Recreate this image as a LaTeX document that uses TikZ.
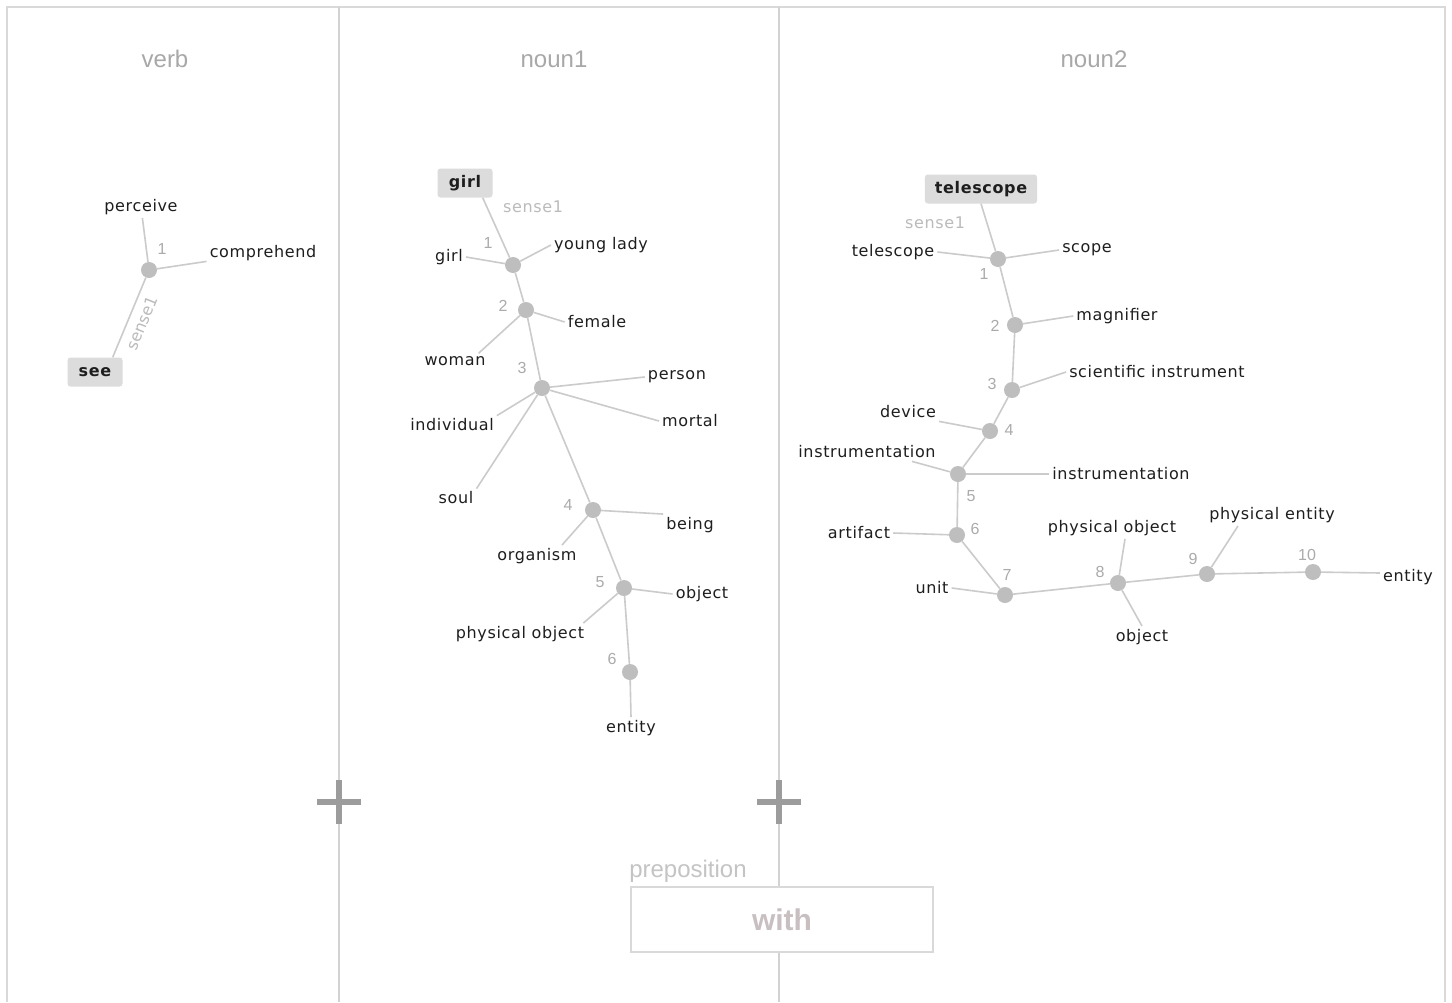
\documentclass[tikz,border=0pt]{standalone}
\usepackage{fontspec}
\newfontfamily\lblfam{DejaVu Sans}[LetterSpace=4]
\newfontfamily\plainfam{DejaVu Sans}
\newfontfamily\hdrfam{Liberation Sans}

\definecolor{framegray}{HTML}{D9D9D9}
\definecolor{divgray}{HTML}{D2D2D2}
\definecolor{linegray}{HTML}{CBCBCB}
\definecolor{hubgray}{HTML}{BEBEBE}
\definecolor{numgray}{HTML}{ABABAB}
\definecolor{sensegray}{HTML}{BBBBBB}
\definecolor{headgray}{HTML}{A8A8A8}
\definecolor{prepgray}{HTML}{C4C4C4}
\definecolor{boxgray}{HTML}{DCDCDC}
\definecolor{wordink}{HTML}{1E1E1E}
\definecolor{withink}{HTML}{C8BFC1}
\definecolor{plusgray}{HTML}{9C9C9C}

\tikzset{
  hub/.style={circle, fill=hubgray, minimum size=16pt, inner sep=0pt},
  word/.style={font=\fontsize{16}{19}\lblfam, text=wordink, inner sep=3pt},
  num/.style={font=\fontsize{16}{19}\hdrfam, text=numgray, inner sep=0pt},
  sense/.style={font=\fontsize{16}{19}\lblfam, text=sensegray, inner sep=0pt},
  tiltsense/.style={font=\fontsize{16}{19}\plainfam, text=sensegray, inner sep=0pt},
  headword/.style={font=\fontsize{16}{19}\lblfam\bfseries, text=wordink,
    fill=boxgray, rounded corners=3pt, minimum height=29pt,
    minimum width=55pt, inner xsep=10pt},
  link/.style={draw=linegray, line width=1.6pt},
  heading/.style={font=\fontsize{24}{28}\hdrfam, text=headgray},
  divider/.style={draw=divgray, line width=1.5pt},
  plus/.style={draw=plusgray, line width=6pt},
}

\begin{document}
\begin{tikzpicture}[x=1pt, y=-1pt]
\useasboundingbox (0,0) rectangle (1452,1002);
\fill[white] (0,0) rectangle (1452,1002);

% outer frame and column dividers
\draw[framegray, line width=2pt] (7,1002) -- (7,7) -- (1445,7) -- (1445,1002);
\draw[divider] (339,7) -- (339,1002);
\draw[divider] (779,7) -- (779,1002);

% column headings
\node[heading] (hverb) at (165,59) {verb};
\node[heading] (hnounone) at (554,59) {noun1};
\node[heading] (hnountwo) at (1094,59) {noun2};

% plus signs on the dividers
\foreach \px in {339,779} {
  \draw[plus] (\px-22,802) -- (\px+22,802) (\px,780) -- (\px,824);
}

% preposition slot
\node[heading, text=prepgray] (prep) at (688,871) {preposition};
\node[draw=framegray, fill=white, line width=1.5pt, minimum width=302pt,
      minimum height=65pt, inner sep=0pt, font=\fontsize{30}{34}\hdrfam\bfseries,
      text=withink] (prepbox) at (782,919.5) {with};

% ---------------- verb tree ----------------
\node[hub] (vhub) at (149,270) {};
\node[word] (vperceive) at (141,207) {perceive};
\node[word] (vcomp) at (263,253) {comprehend};
\node[headword] (vsee) at (95,372) {see};
\node[num] (vn1) at (162,249) {1};
\node[tiltsense, rotate=68] (vsense) at (142,323) {sense1};
\draw[link] (vhub) -- (vperceive);
\draw[link] (vhub) -- (vcomp);
\draw[link] (vhub) -- ([xshift=-10pt]vsee.north east);

% ---------------- noun1 tree ----------------
\node[headword] (agirl) at (465,183) {girl};
\node[sense] (asense) at (533,207) {sense1};
\node[hub] (a1) at (513,265) {};
\node[num] (an1) at (488,243) {1};
\node[word] (agirlw) at (449,257) {girl};
\node[word] (ayoung) at (601,245) {young lady};
\node[hub] (a2) at (526,310) {};
\node[num] (an2) at (503,306) {2};
\node[word] (afemale) at (597,322) {female};
\node[word] (awoman) at (455,361) {woman};
\node[hub] (a3) at (542,388) {};
\node[num] (an3) at (522,368) {3};
\node[word] (aperson) at (677,377) {person};
\node[word] (amortal) at (690,421) {mortal};
\node[word] (aindiv) at (452,425) {individual};
\node[word] (asoul) at (456,498) {soul};
\node[hub] (a4) at (593,510) {};
\node[num] (an4) at (568,505) {4};
\node[word] (abeing) at (690,525) {being};
\node[word] (aorg) at (537,556) {organism};
\node[hub] (a5) at (624,588) {};
\node[num] (an5) at (600,582) {5};
\node[word] (aobject) at (702,594) {object};
\node[word] (aphys) at (520,634) {physical object};
\node[hub] (a6) at (630,672) {};
\node[num] (an6) at (612,659) {6};
\node[word] (aentity) at (631,728) {entity};

\draw[link] ([xshift=-10pt]agirl.south east) -- (a1);
\draw[link] (a1) -- (agirlw.east);
\draw[link] (a1) -- (ayoung.west);
\draw[link] (a1) -- (a2);
\draw[link] (a2) -- (afemale.west);
\draw[link] (a2) -- ([xshift=-10pt]awoman.north east);
\draw[link] (a2) -- (a3);
\draw[link] (a3) -- (aperson.west);
\draw[link] (a3) -- (amortal.west);
\draw[link] (a3) -- (aindiv.north east);
\draw[link] (a3) -- (asoul.north east);
\draw[link] (a3) -- (a4);
\draw[link] (a4) -- (abeing.north west);
\draw[link] (a4) -- ([xshift=25pt]aorg.north);
\draw[link] (a4) -- (a5);
\draw[link] (a5) -- (aobject.west);
\draw[link] (a5) -- ([xshift=-4pt]aphys.north east);
\draw[link] (a5) -- (a6);
\draw[link] (a6) -- (aentity.north);

% ---------------- noun2 tree ----------------
\node[headword] (btele) at (981,189) {telescope};
\node[sense] (bsense) at (935,223) {sense1};
\node[hub] (b1) at (998,259) {};
\node[num] (bn1) at (984,274) {1};
\node[word] (btelew) at (893,252) {telescope};
\node[word] (bscope) at (1087,250) {scope};
\node[hub] (b2) at (1015,325) {};
\node[num] (bn2) at (995,326) {2};
\node[word] (bmagn) at (1117,316) {magnifier};
\node[hub] (b3) at (1012,390) {};
\node[num] (bn3) at (992,384) {3};
\node[word] (bsci) at (1157,372) {scientific instrument};
\node[hub] (b4) at (990,431) {};
\node[num] (bn4) at (1009,430) {4};
\node[word] (bdevice) at (908,412) {device};
\node[hub] (b5) at (958,474) {};
\node[num] (bn5) at (971,496) {5};
\node[word] (binstl) at (867,452) {instrumentation};
\node[word] (binstr) at (1121,474) {instrumentation};
\node[hub] (b6) at (957,535) {};
\node[num] (bn6) at (975,529) {6};
\node[word] (bartifact) at (859,533) {artifact};
\node[hub] (b7) at (1005,595) {};
\node[num] (bn7) at (1007,575) {7};
\node[word] (bunit) at (932,588) {unit};
\node[hub] (b8) at (1118,583) {};
\node[num] (bn8) at (1100,572) {8};
\node[word] (bphys) at (1112,528) {physical object};
\node[word] (bobject) at (1142,637) {object};
\node[hub] (b9) at (1207,574) {};
\node[num] (bn9) at (1193,559) {9};
\node[word] (bpent) at (1272,515) {physical entity};
\node[hub] (b10) at (1313,572) {};
\node[num] (bn10) at (1307,555) {10};
\node[word] (bentity) at (1408,577) {entity};

\draw[link] (btele.south) -- (b1);
\draw[link] (b1) -- (btelew.east);
\draw[link] (b1) -- (bscope.west);
\draw[link] (b1) -- (b2);
\draw[link] (b2) -- (bmagn.west);
\draw[link] (b2) -- (b3);
\draw[link] (b3) -- (bsci.west);
\draw[link] (b3) -- (b4);
\draw[link] (b4) -- (bdevice.south east);
\draw[link] (b4) -- (b5);
\draw[link] (b5) -- ([xshift=45pt]binstl.south);
\draw[link] (b5) -- (binstr.west);
\draw[link] (b5) -- (b6);
\draw[link] (b6) -- (bartifact.east);
\draw[link] (b6) -- (b7);
\draw[link] (b7) -- (bunit.east);
\draw[link] (b7) -- (b8);
\draw[link] (b8) -- ([xshift=13pt]bphys.south);
\draw[link] (b8) -- (bobject.north);
\draw[link] (b8) -- (b9);
\draw[link] (b9) -- ([xshift=-34pt]bpent.south);
\draw[link] (b9) -- (b10);
\draw[link] (b10) -- ([yshift=4pt]bentity.west);
\end{tikzpicture}
\end{document}
